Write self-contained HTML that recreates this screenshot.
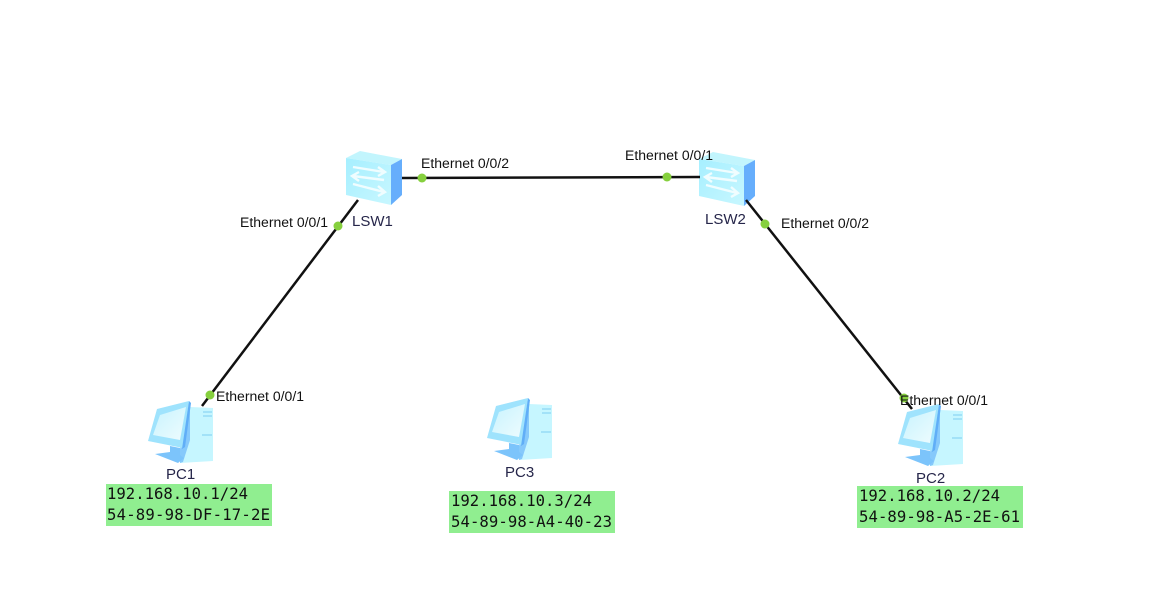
<!DOCTYPE html>
<html>
<head>
<meta charset="utf-8">
<style>
html,body{margin:0;padding:0;background:#fff;width:1153px;height:590px;overflow:hidden}
svg{display:block}
.e{font-family:"Liberation Sans",sans-serif;font-size:13.5px;fill:#111}
.n{font-family:"Liberation Sans",sans-serif;font-size:15px;fill:#26264a}
.m{font-family:"DejaVu Sans Mono","Liberation Mono",monospace;font-size:15.6px;fill:#111}
</style>
</head>
<body>
<svg width="1153" height="590" viewBox="0 0 1153 590" xmlns="http://www.w3.org/2000/svg">
<defs>
<linearGradient id="f" x1="0" y1="0" x2="1" y2="1"><stop offset="0" stop-color="#a6efff"/><stop offset="1" stop-color="#c8f7ff"/></linearGradient>
<linearGradient id="s" x1="0" y1="0" x2="1" y2="1"><stop offset="0" stop-color="#c8f3fd"/><stop offset="1" stop-color="#eefcff"/></linearGradient>
<g id="sw">
<polygon points="346,158 360,151 402,159 391,165" fill="#c2f5fd"/>
<polygon points="346,158 391,165 391,205 346,195" fill="url(#f)"/>
<polygon points="391,165 402,159 402,195 391,205" fill="#66aefc"/>
<g fill="none" stroke="#f0fdff" stroke-width="2.4">
<path d="M353,167 L384,172 M378,167 L385,172 L378,176"/>
<path d="M384,180 L353,176 M359,172 L352,176 L359,181"/>
<path d="M353,184 L384,192 M378,186 L385,192 L378,196"/>
</g>
</g>
<g id="pc">
<polygon points="190,407 213,408 213,461 180,463 188,440" fill="#c6f6ff"/>
<polygon points="190,407 190,440 183,462 180,463 180,449" fill="#86c9fb"/>
<path d="M203,412 H212 M203,416 H212 M202,435 H212" stroke="#7fcdf0" stroke-width="1"/>
<polygon points="157,409 189,401 183,448 148,441" fill="#9fe3fd"/>
<polygon points="160,415 186,407 180,440 153,435" fill="url(#s)"/>
<polygon points="189,401 191,403 185,447 182,449" fill="#60aef7"/>
<polygon points="170,446 180,448 180,455 184,458 178,463 155,454 170,452" fill="#7cc4fb"/>
</g>
</defs>
<rect width="1153" height="590" fill="#fff"/>

<use href="#sw"/>
<use href="#sw" x="353" y="1"/>
<use href="#pc"/>
<use href="#pc" x="339" y="-3"/>
<use href="#pc" x="750" y="3"/>

<g stroke="#111" stroke-width="2.5" fill="none">
<line x1="358" y1="200" x2="202" y2="406"/>
<line x1="402" y1="178" x2="700" y2="177"/>
<line x1="746" y1="200" x2="912" y2="409"/>
</g>

<g fill="#86d03e">
<circle cx="338" cy="226" r="4.5"/>
<circle cx="422" cy="178" r="4.5"/>
<circle cx="667" cy="177" r="4.5"/>
<circle cx="765" cy="224" r="4.5"/>
<circle cx="210" cy="395" r="4.5"/>
<circle cx="904" cy="398" r="4.5"/>
</g>

<g class="e">
<text x="240" y="227" textLength="88" lengthAdjust="spacingAndGlyphs">Ethernet 0/0/1</text>
<text x="421" y="168" textLength="88" lengthAdjust="spacingAndGlyphs">Ethernet 0/0/2</text>
<text x="625" y="160" textLength="88" lengthAdjust="spacingAndGlyphs">Ethernet 0/0/1</text>
<text x="781" y="228" textLength="88" lengthAdjust="spacingAndGlyphs">Ethernet 0/0/2</text>
<text x="216" y="401" textLength="88" lengthAdjust="spacingAndGlyphs">Ethernet 0/0/1</text>
<text x="900" y="405" textLength="88" lengthAdjust="spacingAndGlyphs">Ethernet 0/0/1</text>
</g>

<g class="n">
<text x="352" y="226">LSW1</text>
<text x="705" y="224">LSW2</text>
<text x="166" y="479">PC1</text>
<text x="505" y="477">PC3</text>
<text x="916" y="483">PC2</text>
</g>

<g fill="#90ee90">
<rect x="106" y="484" width="166" height="42"/>
<rect x="449" y="491" width="166" height="42"/>
<rect x="857" y="486" width="166" height="42"/>
</g>
<g class="m">
<text x="107" y="499" textLength="141">192.168.10.1/24</text>
<text x="107" y="520" textLength="163">54-89-98-DF-17-2E</text>
<text x="451" y="506" textLength="141">192.168.10.3/24</text>
<text x="451" y="527" textLength="161">54-89-98-A4-40-23</text>
<text x="859" y="501" textLength="141">192.168.10.2/24</text>
<text x="859" y="522" textLength="161">54-89-98-A5-2E-61</text>
</g>
</svg>
</body>
</html>
